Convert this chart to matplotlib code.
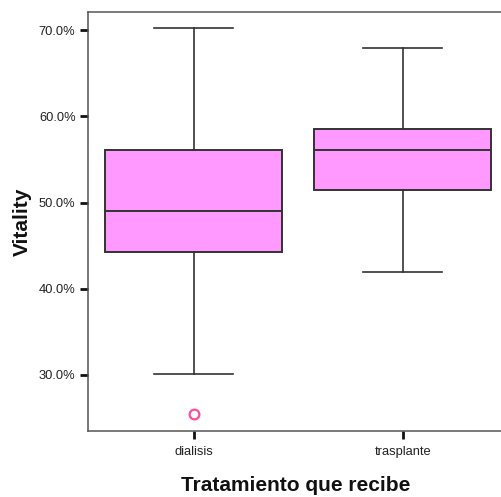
import matplotlib
matplotlib.use("Agg")
import matplotlib.pyplot as plt

categories = ["dialisis", "trasplante"]
whislo = [30.1, 41.9]
q1 = [44.3, 51.4]
med = [49.0, 56.1]
q3 = [56.1, 58.5]
whishi = [70.2, 67.9]
fliers = [[25.5], []]
yticks = [30, 40, 50, 60, 70]

fig = plt.figure(figsize=(5.02, 4.97), dpi=100)
ax = fig.add_axes([88/502, 66/497, 415/502, 419/497])

stats = []
for i, c in enumerate(categories):
    stats.append(dict(label=c, whislo=whislo[i], q1=q1[i], med=med[i],
                      q3=q3[i], whishi=whishi[i], fliers=fliers[i]))

edge = "#333333"
ax.bxp(stats, positions=[1, 2], widths=0.847, capwidths=0.378,
       patch_artist=True, showfliers=True,
       boxprops=dict(facecolor="#FF99FF", edgecolor=edge, linewidth=1.4),
       medianprops=dict(color=edge, linewidth=1.4),
       whiskerprops=dict(color=edge, linewidth=1.2),
       capprops=dict(color=edge, linewidth=1.2),
       flierprops=dict(marker="o", markerfacecolor="none",
                       markeredgecolor="#FF4C9A", markersize=7,
                       markeredgewidth=1.6))

ax.set_xlim(0.495, 2.48)
ax.set_ylim(23.5, 72.1)
ax.set_yticks(yticks)
ax.set_yticklabels([f"{v:.1f}%" for v in yticks])
ax.set_xticks([1, 2])
ax.set_xticklabels(categories)

for s in ["left", "bottom", "top"]:
    ax.spines[s].set_color("#555555")
    ax.spines[s].set_linewidth(1.1)
ax.spines["right"].set_visible(False)

ax.tick_params(axis="both", direction="out", length=6, width=2,
               color="#111111", labelsize=9.3, labelcolor="#222222", pad=3)
ax.tick_params(axis="x", pad=5)
for lab in ax.get_xticklabels() + ax.get_yticklabels():
    lab.set_fontfamily("Liberation Sans")

ax.set_ylabel("Vitality", fontsize=15, fontweight="bold", color="#111111",
              fontfamily="Liberation Sans")
ax.set_xlabel("Tratamiento que recibe", fontsize=15, fontweight="bold",
              color="#111111", fontfamily="Liberation Sans")
ax.yaxis.set_label_coords(-0.135, 0.5)
ax.xaxis.set_label_coords(0.5, -0.108)

fig.savefig("out.png", dpi=100)
